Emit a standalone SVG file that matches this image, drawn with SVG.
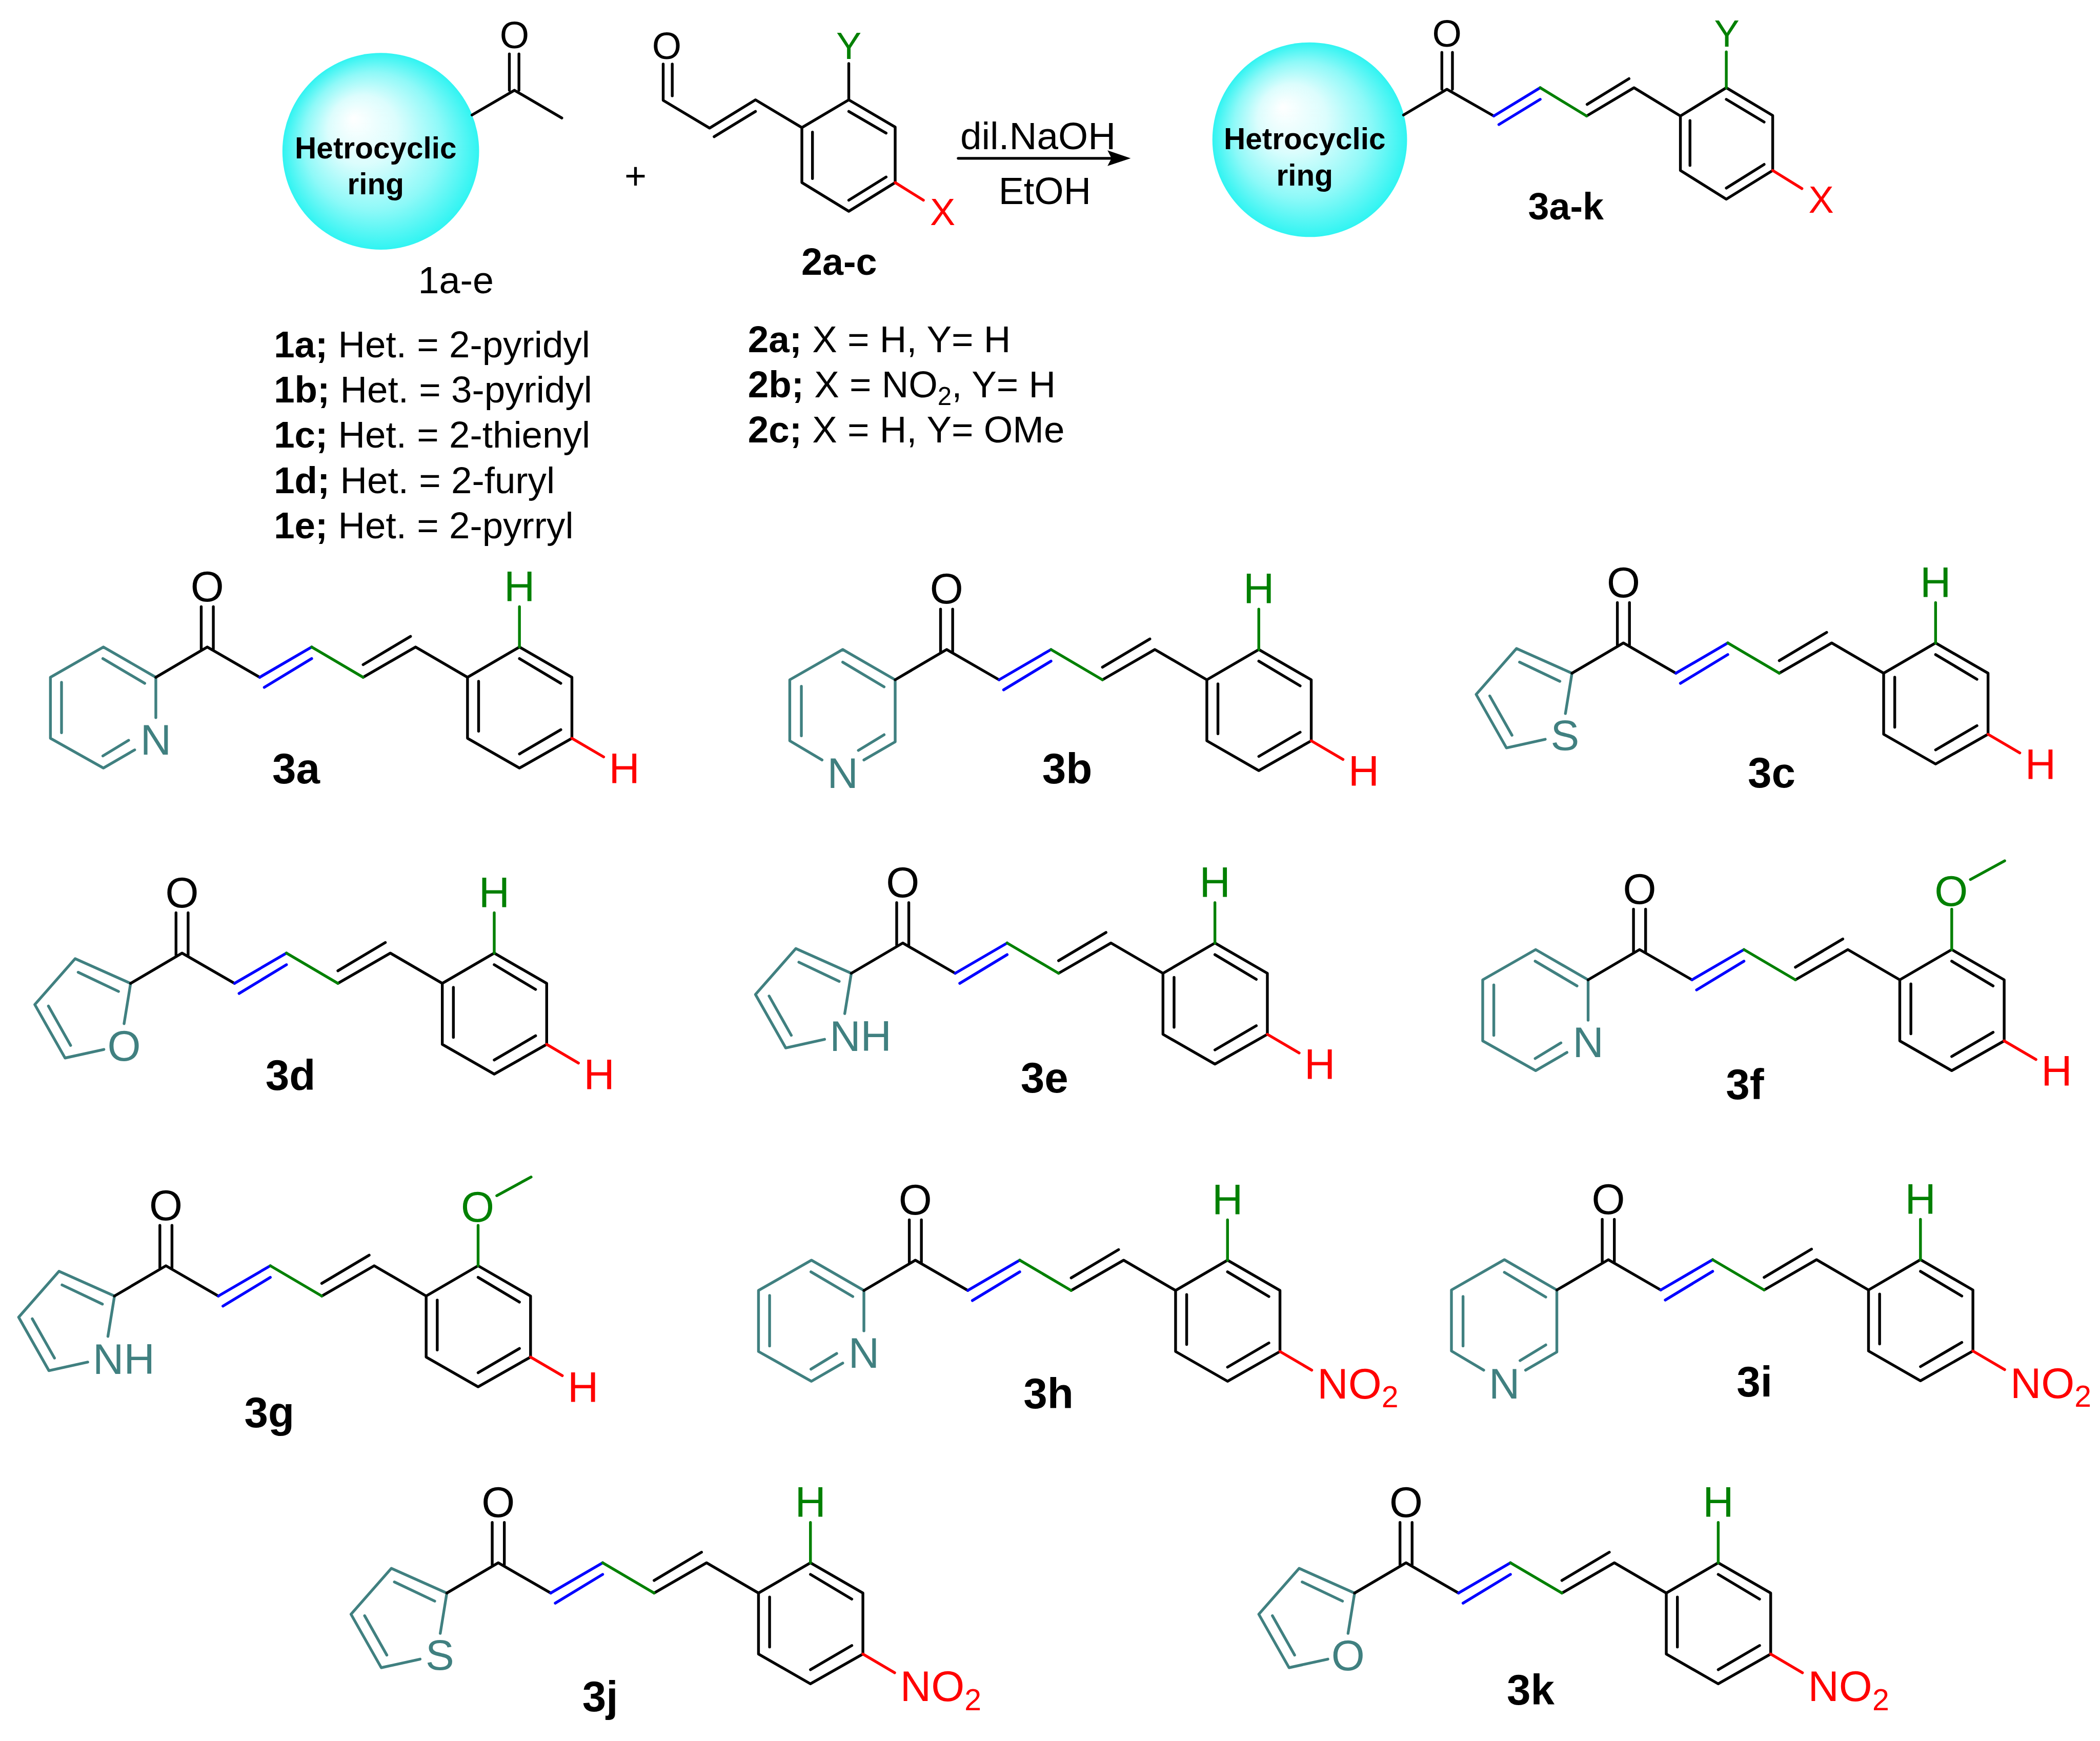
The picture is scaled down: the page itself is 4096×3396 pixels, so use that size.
<svg xmlns="http://www.w3.org/2000/svg" width="4096" height="3396" viewBox="0 0 4096 3396">
<style>
text{font-family:"Liberation Sans",Arial,sans-serif;font-size:85px}
.m{text-anchor:middle}
.b{font-weight:bold}
.s{font-size:75px}
.l{font-size:74px}
.h{font-size:59.5px;font-weight:bold;text-anchor:middle}
.sub{font-size:60px}
.tl{fill:#408080}.gr{fill:#008000}.rd{fill:#ff0000}
path{fill:none;stroke-width:5.5;stroke-linecap:round;stroke-linejoin:round}
.k{stroke:#000}.bl{stroke:#0000ff}.g{stroke:#008000}.r{stroke:#ff0000}.t{stroke:#408080}
</style>
<defs>
<radialGradient id="ball" cx="0.5" cy="0.5" r="0.5" fx="0.36" fy="0.33">
<stop offset="0" stop-color="#ffffff"/><stop offset="0.35" stop-color="#dcfdfd"/><stop offset="0.7" stop-color="#8ef9f8"/><stop offset="1" stop-color="#30f4f2"/>
</radialGradient>
<g id="chain">
<path class="k" d="M-102 60L0 0L104 60M-12 -80V4M12 -80V4M309 60L413 0L516 60L619 0L723 60V181L619 240L516 181V60M309 35L403 -21M619 23L701 72M538 68V167M619 212L701 164"/>
<path class="bl" d="M104 60L207 0M113 80L207 23"/>
<path class="g" d="M207 0L309 60M619 0V-80"/>
<path class="r" d="M723 181L786 218"/>
</g>
<path id="pyr2" class="t" d="M-102 60L-206 0L-311 60V181L-206 240L-144 204M-102 60V140M-207 23L-124 72M-289 70V170M-207 216L-156 185"/>
<path id="pyr3" class="t" d="M-102 60L-206 0L-311 60V181L-247 219M-102 60V183L-164 219M-206 25L-124 74M-288 73V171M-175 200L-124 169"/>
<path id="five" class="t" d="M-102 60L-212 11L-292 102L-232 208L-155 191M-102 60L-115 140M-206 38L-126 76M-265 105L-221 183"/>
<path id="ome" class="g" d="M656 -139L724 -176"/>
</defs>
<rect width="4096" height="3396" fill="#ffffff"/>
<g transform="scale(0.98367)">
<g id="reactant-1">
<circle cx="755" cy="300" r="195" fill="url(#ball)"/>
<path class="k" d="M936 228L1020 179L1114 234M1010 107V179M1029 107V179"/>
<text class="m s" x="1020" y="96">O</text>
<text class="h" x="745" y="314">Hetrocyclic</text>
<text class="h" x="745" y="385">ring</text>
<text class="m s" x="904" y="582">1a-e</text>
</g>
<g id="plus"><text class="m s" x="1260" y="375">+</text></g>
<g id="reactant-2">
<path class="k" d="M1315 127V199L1407 254L1498 198L1590 253L1683 198L1775 252V362L1683 419L1590 362V253M1333 127V190M1416 271L1498 221M1683 221L1757 264M1611 262V354M1683 397L1757 351M1683 198V126"/>
<path class="r" d="M1775 362L1831 397"/>
<text class="m s" x="1322" y="117">O</text>
<text class="m s gr" x="1683" y="117">Y</text>
<text class="m s rd" x="1869" y="446">X</text>
<text class="m b s" x="1664" y="545">2a-c</text>
</g>
<g id="arrow">
<path class="k" d="M1900 314H2205"/>
<polygon points="2196,298 2242,314 2196,329 2204,314" fill="#000"/>
<text class="s" style="font-size:76px" x="1904" y="296">dil.NaOH</text>
<text class="s" x="1980" y="405">EtOH</text>
</g>
<g id="product">
<circle cx="2597" cy="277" r="193" fill="url(#ball)"/>
<path class="k" d="M2783 228L2869 177L2962 230M2859 104V177M2880 104V177M3146 230L3240 174L3332 230L3423 174L3515 229V338L3423 395L3332 338V230M3147 207L3230 156M3423 197L3498 242M3351 239V328M3423 373L3498 326"/>
<path class="bl" d="M2962 230L3054 174M2972 247L3054 197"/>
<path class="g" d="M3054 174L3146 230M3423 174V103"/>
<path class="r" d="M3515 338L3573 374"/>
<text class="m s" x="2869" y="93">O</text>
<text class="m s gr" x="3424" y="93">Y</text>
<text class="m s rd" x="3611" y="422">X</text>
<text class="h" x="2587" y="296">Hetrocyclic</text>
<text class="h" x="2587" y="368">ring</text>
<text class="m b s" x="3105" y="435">3a-k</text>
</g>
<g id="legend-1">
<text class="l" x="543" y="709"><tspan class="b">1a;</tspan> Het. = 2-pyridyl</text>
<text class="l" x="543" y="798"><tspan class="b">1b;</tspan> Het. = 3-pyridyl</text>
<text class="l" x="543" y="888"><tspan class="b">1c;</tspan> Het. = 2-thienyl</text>
<text class="l" x="543" y="978"><tspan class="b">1d;</tspan> Het. = 2-furyl</text>
<text class="l" x="543" y="1067"><tspan class="b">1e;</tspan> Het. = 2-pyrryl</text>
</g>
<g id="legend-2">
<text class="l" x="1483" y="698"><tspan class="b">2a;</tspan> X = H, Y= H</text>
<text class="l" x="1483" y="788"><tspan class="b">2b;</tspan> X = NO<tspan style="font-size:50px" dy="15">2</tspan><tspan dy="-15">, Y= H</tspan></text>
<text class="l" x="1483" y="877"><tspan class="b">2c;</tspan> X = H, Y= OMe</text>
</g>
<g id="compound-3a" transform="translate(411,1283)">
<use href="#pyr2"/><use href="#chain"/>
<text class="m" y="-91">O</text><text class="m tl" x="-102" y="213">N</text><text class="m gr" x="619" y="-91">H</text><text class="m rd" x="827" y="270">H</text>
<text class="m b" x="176" y="270">3a</text>
</g>
<g id="compound-3b" transform="translate(1877,1288)">
<use href="#pyr3"/><use href="#chain"/>
<text class="m" y="-91">O</text><text class="m tl" x="-206" y="275">N</text><text class="m gr" x="619" y="-91">H</text><text class="m rd" x="827" y="270">H</text>
<text class="m b" x="239" y="265">3b</text>
</g>
<g id="compound-3c" transform="translate(3219,1275)">
<use href="#five"/><use href="#chain"/>
<text class="m" y="-91">O</text><text class="m tl" x="-116" y="212">S</text><text class="m gr" x="619" y="-91">H</text><text class="m rd" x="827" y="270">H</text>
<text class="m b" x="294" y="286">3c</text>
</g>
<g id="compound-3d" transform="translate(361,1890)">
<use href="#five"/><use href="#chain"/>
<text class="m" y="-91">O</text><text class="m tl" x="-115" y="213">O</text><text class="m gr" x="619" y="-91">H</text><text class="m rd" x="827" y="270">H</text>
<text class="m b" x="215" y="271">3d</text>
</g>
<g id="compound-3e" transform="translate(1790,1870)">
<use href="#five"/><use href="#chain"/>
<text class="m" y="-91">O</text><text class="tl" x="-145" y="214">NH</text><text class="m gr" x="619" y="-91">H</text><text class="m rd" x="827" y="270">H</text>
<text class="m b" x="281" y="296">3e</text>
</g>
<g id="compound-3f" transform="translate(3251,1883)">
<use href="#pyr2"/><use href="#chain"/><use href="#ome"/>
<text class="m" y="-91">O</text><text class="m tl" x="-102" y="213">N</text><text class="m gr" x="618" y="-87">O</text><text class="m rd" x="827" y="270">H</text>
<text class="m b" x="209" y="297">3f</text>
</g>
<g id="compound-3g" transform="translate(329,2510)">
<use href="#five"/><use href="#chain"/><use href="#ome"/>
<text class="m" y="-91">O</text><text class="tl" x="-145" y="214">NH</text><text class="m gr" x="618" y="-87">O</text><text class="m rd" x="827" y="270">H</text>
<text class="m b" x="205" y="320">3g</text>
</g>
<g id="compound-3h" transform="translate(1815,2499)">
<use href="#pyr2"/><use href="#chain"/>
<text class="m" y="-91">O</text><text class="m tl" x="-102" y="213">N</text><text class="m gr" x="619" y="-91">H</text><text class="rd" x="797" y="274">NO<tspan class="sub" dy="18">2</tspan></text>
<text class="m b" x="264" y="294">3h</text>
</g>
<g id="compound-3i" transform="translate(3189,2498)">
<use href="#pyr3"/><use href="#chain"/>
<text class="m" y="-91">O</text><text class="m tl" x="-206" y="275">N</text><text class="m gr" x="619" y="-91">H</text><text class="rd" x="797" y="274">NO<tspan class="sub" dy="18">2</tspan></text>
<text class="m b" x="290" y="271">3i</text>
</g>
<g id="compound-3j" transform="translate(988,3099)">
<use href="#five"/><use href="#chain"/>
<text class="m" y="-91">O</text><text class="m tl" x="-116" y="212">S</text><text class="m gr" x="619" y="-91">H</text><text class="rd" x="797" y="274">NO<tspan class="sub" dy="18">2</tspan></text>
<text class="m b" x="202" y="294">3j</text>
</g>
<g id="compound-3k" transform="translate(2788,3099)">
<use href="#five"/><use href="#chain"/>
<text class="m" y="-91">O</text><text class="m tl" x="-115" y="213">O</text><text class="m gr" x="619" y="-91">H</text><text class="rd" x="797" y="274">NO<tspan class="sub" dy="18">2</tspan></text>
<text class="m b" x="247" y="281">3k</text>
</g>
</g>
</svg>
